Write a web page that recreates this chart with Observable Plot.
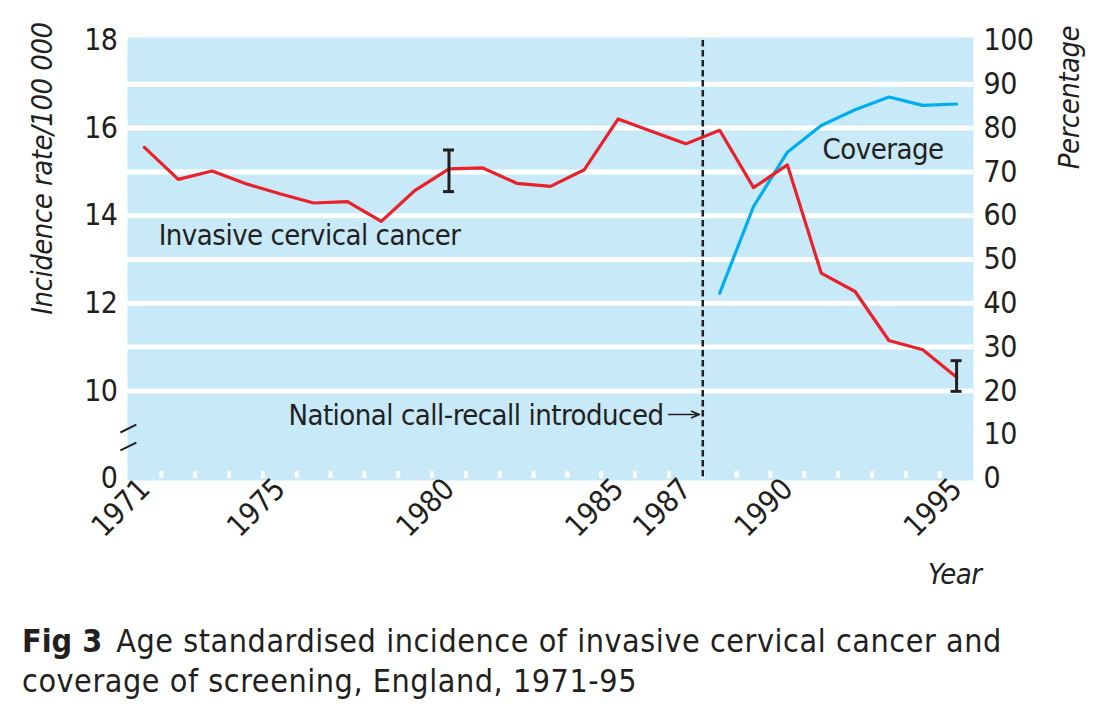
<!DOCTYPE html>
<html>
<head>
<meta charset="utf-8">
<script src="https://cdn.jsdelivr.net/npm/d3@7"></script>
<script src="https://cdn.jsdelivr.net/npm/@observablehq/plot@0.6"></script>
<style>
  html, body { margin: 0; padding: 0; background: #fff; }
  body { width: 1119px; height: 719px; overflow: hidden; font-family: "Liberation Sans Narrow", "DejaVu Sans Condensed", sans-serif; color: #231f20; }
  #chart svg text { letter-spacing: -0.5px; }
  #caption { font-size: 32px; line-height: 40px; padding-left: 22px; margin-top: 21px; letter-spacing: 0.55px; }
  #caption b { font-weight: bold; margin-right: 14px; letter-spacing: 0; }
</style>
</head>
<body>
<div id="chart"></div>
<div id="caption"><b>Fig 3</b>Age standardised incidence of invasive cervical cancer and<br>coverage of screening, England, 1971-95</div>
<script>
// ---- data ----
const years = [1971, 1972, 1973, 1974, 1975, 1976, 1977, 1978, 1979, 1980, 1981, 1982, 1983,
               1984, 1985, 1986, 1987, 1988, 1989, 1990, 1991, 1992, 1993, 1994, 1995];
const incidence = [15.56, 14.83, 15.02, 14.73, 14.50, 14.29, 14.32, 13.87, 14.58, 15.07, 15.09, 14.74, 14.67,
                   15.05, 16.21, 15.92, 15.64, 15.95, 14.64, 15.16, 12.69, 12.27, 11.15, 10.94, 10.31];
const coverageYears = [1988, 1989, 1990, 1991, 1992, 1993, 1994, 1995];
const coverage = [42.3, 62.1, 74.5, 80.6, 84.2, 87.1, 85.2, 85.5]; // percentage
const errYears = [1980, 1995];
const errLow = [14.55, 9.99];
const errHigh = [15.50, 10.69];
const xTicks = [1971, 1975, 1980, 1985, 1987, 1990, 1995];
const leftTicks = [8, 10, 12, 14, 16, 18];        // 8 is the broken-axis zero
const leftTickLabels = ["0", "10", "12", "14", "16", "18"];
const rightTickLabels = [0, 10, 20, 30, 40, 50, 60, 70, 80, 90, 100];
const gridValues = [10, 11, 12, 13, 14, 15, 16, 17];
const recallYear = 1987.5;

// percentage -> left-axis units (10 % per incidence unit, 0 % at axis-zero)
const pctToY = p => 8 + p / 10;
const rightTicks = rightTickLabels.map(pctToY);

const incRows = years.map((year, i) => ({year, value: incidence[i]}));
const covRows = coverageYears.map((year, i) => ({year, value: pctToY(coverage[i])}));
const errRows = errYears.map((year, i) => ({year, low: errLow[i], high: errHigh[i]}));
const notchRows = years.slice(0, -1).map(y => y + 0.5);
const breakRows = [9.14, 8.73];

const ink = "#231f20";
const red = "#e8212b";
const blue = "#00aeef";
const band = "#c7e9f8";

const chart = Plot.plot({
  width: 1119,
  height: 600,
  marginLeft: 127,
  marginRight: 146,
  marginTop: 40,
  marginBottom: 122,
  style: {fontFamily: '"Liberation Sans Narrow", "DejaVu Sans Condensed", sans-serif', fontSize: "29px", color: ink, background: "white"},
  x: {domain: [1970.5, 1995.5]},
  y: {domain: [8, 18]},
  marks: [
    Plot.frame({fill: band, stroke: null, insetTop: -3, insetBottom: -2}),
    Plot.ruleY(gridValues, {stroke: "white", strokeWidth: 5}),
    Plot.ruleX(notchRows, {x: d => d, y1: 8, y2: 8.2, stroke: "white", strokeWidth: 4, insetBottom: -2}),
    Plot.ruleX([recallYear], {stroke: ink, strokeWidth: 2.5, strokeDasharray: "6.5,3.5", insetBottom: -2}),
    Plot.link(breakRows, {x1: 1970.5 - 0.21, x2: 1970.5 + 0.26, y1: d => d - 0.09, y2: d => d + 0.09, stroke: ink, strokeWidth: 2}),
    Plot.line(covRows, {x: "year", y: "value", stroke: blue, strokeWidth: 3.2}),
    Plot.line(incRows, {x: "year", y: "value", stroke: red, strokeWidth: 3.2}),
    Plot.ruleX(errRows, {x: "year", y1: "low", y2: "high", stroke: ink, strokeWidth: 3}),
    Plot.ruleY(errRows, {y: "low", x1: "year", x2: "year", insetLeft: -5.5, insetRight: -5.5, stroke: ink, strokeWidth: 3}),
    Plot.ruleY(errRows, {y: "high", x1: "year", x2: "year", insetLeft: -5.5, insetRight: -5.5, stroke: ink, strokeWidth: 3}),
    Plot.text(["Invasive cervical cancer"], {x: 1971.42, y: 13.55, textAnchor: "start", fill: ink, fontSize: 29}),
    Plot.text(["Coverage"], {x: 1991.04, y: 15.51, textAnchor: "start", fill: ink, fontSize: 29}),
    Plot.text(["National call-recall introduced"], {x: 1986.34, y: 9.44, textAnchor: "end", fill: ink, fontSize: 29}),
    Plot.arrow([0], {x1: 1986.49, x2: 1987.40, y1: 9.46, y2: 9.46, stroke: ink, strokeWidth: 1.6, headLength: 8, headAngle: 45}),
    Plot.axisY({anchor: "left", ticks: leftTicks, tickFormat: (d, i) => leftTickLabels[leftTicks.indexOf(d)], tickSize: 0, tickPadding: 10, label: null, fontSize: 30}),
    Plot.axisY({anchor: "right", ticks: rightTicks, tickFormat: d => String(Math.round((d - 8) * 10)), tickSize: 0, tickPadding: 10, label: null, fontSize: 30}),
    Plot.axisX({ticks: xTicks, tickFormat: d => String(d), tickRotate: -45, tickSize: 0, tickPadding: 6, label: null, fontSize: 30}),
    Plot.text(["Incidence rate/100 000"], {frameAnchor: "top-left", rotate: -90, textAnchor: "middle", dx: -96, dy: 128, fontStyle: "italic", fill: ink, fontSize: 29}),
    Plot.text(["Percentage"], {frameAnchor: "top-right", rotate: -90, textAnchor: "middle", dx: 85, dy: 57, fontStyle: "italic", fill: ink, fontSize: 29}),
    Plot.text(["Year"], {frameAnchor: "bottom-right", textAnchor: "end", dx: 8, dy: 105, fontStyle: "italic", fill: ink, fontSize: 29})
  ]
});
document.getElementById("chart").appendChild(chart);
</script>
</body>
</html>
